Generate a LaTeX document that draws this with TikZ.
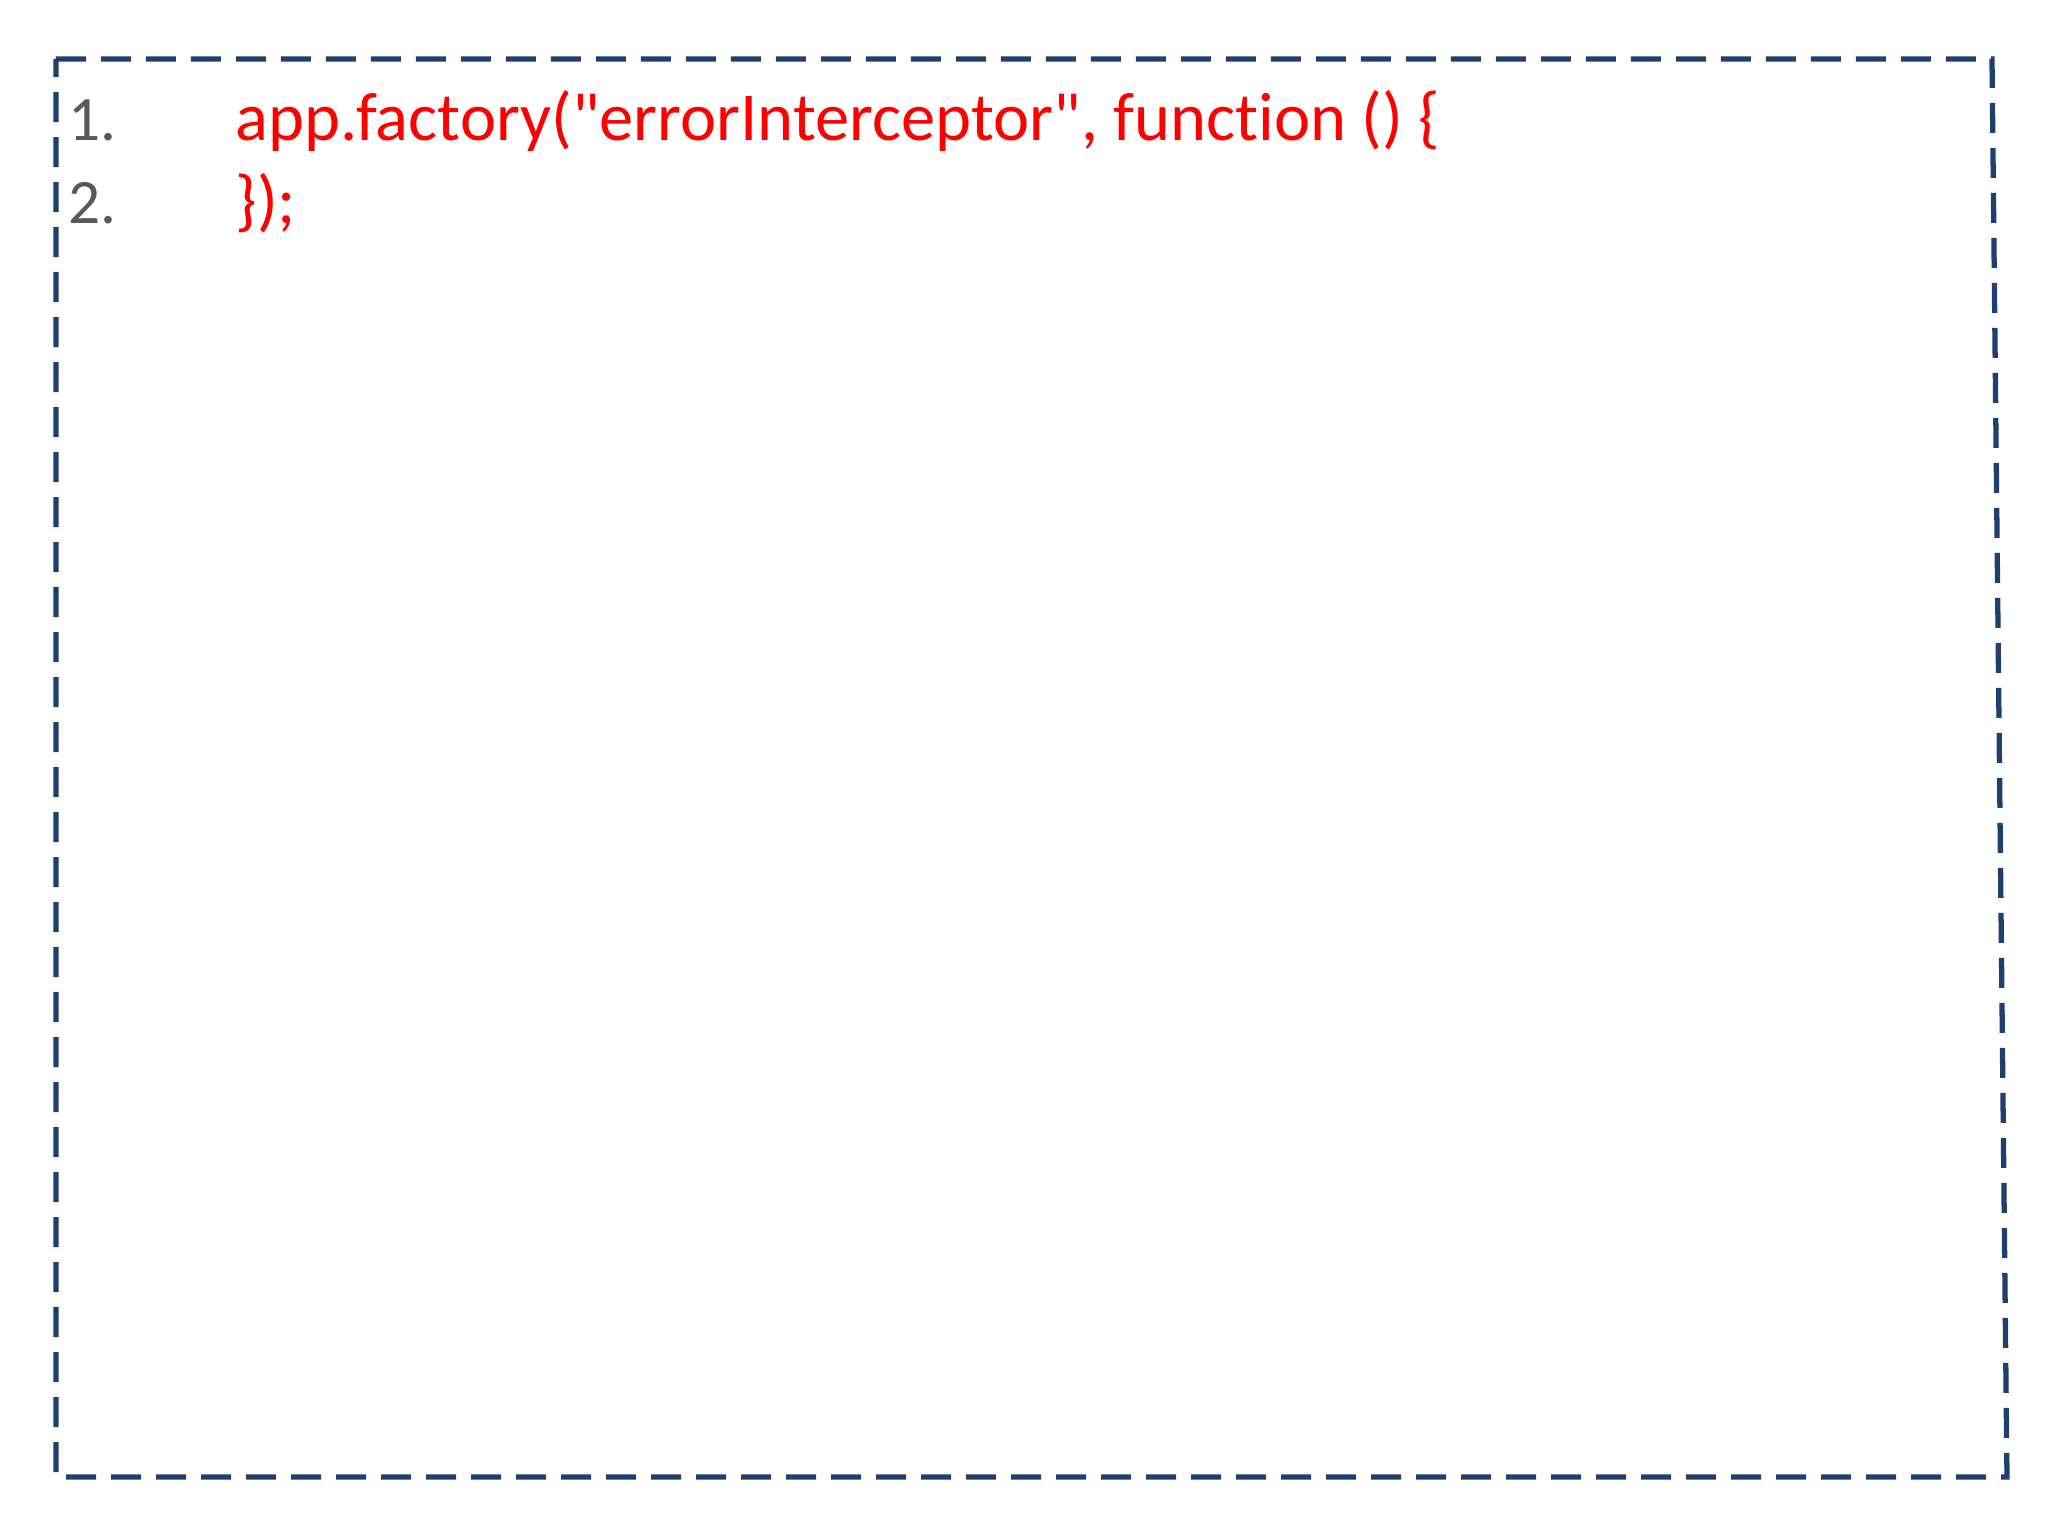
\documentclass[tikz,border=0pt]{standalone}
\usepackage{fontspec}
\setmainfont{Carlito}[Ligatures={NoCommon,TeXOff}]
\definecolor{framecol}{HTML}{1F3F6F}
\definecolor{numcol}{HTML}{595959}
\definecolor{codecol}{HTML}{FF0000}
\tikzset{
  codeline/.style={anchor=base west, text=codecol, font=\fontsize{19.5}{23}\selectfont, inner sep=0pt},
  numline/.style={anchor=base west, text=numcol, font=\fontsize{18}{22}\selectfont, inner sep=0pt}
}
\begin{document}
\begin{tikzpicture}
        \useasboundingbox (0,0) rectangle (20.48,15.36);
        \draw[framecol, line width=1.5pt, dash pattern=on 0.3cm off 0.15cm]
          (0.56,14.77) -- (19.92,14.77) -- (20.07,0.59) -- (0.56,0.59) -- cycle;

        \node[numline] (n1) at (0.68,13.95) {1.};
        \node[numline] (n2) at (0.68,13.12) {2.};
        \node[codeline] (c1) at (2.35,13.95) {app.factory(\symbol{34}errorInterceptor\symbol{34}, function () \{};
        \node[codeline] (c2) at (2.35,13.12) {\});};
    \end{tikzpicture}
\end{document}
